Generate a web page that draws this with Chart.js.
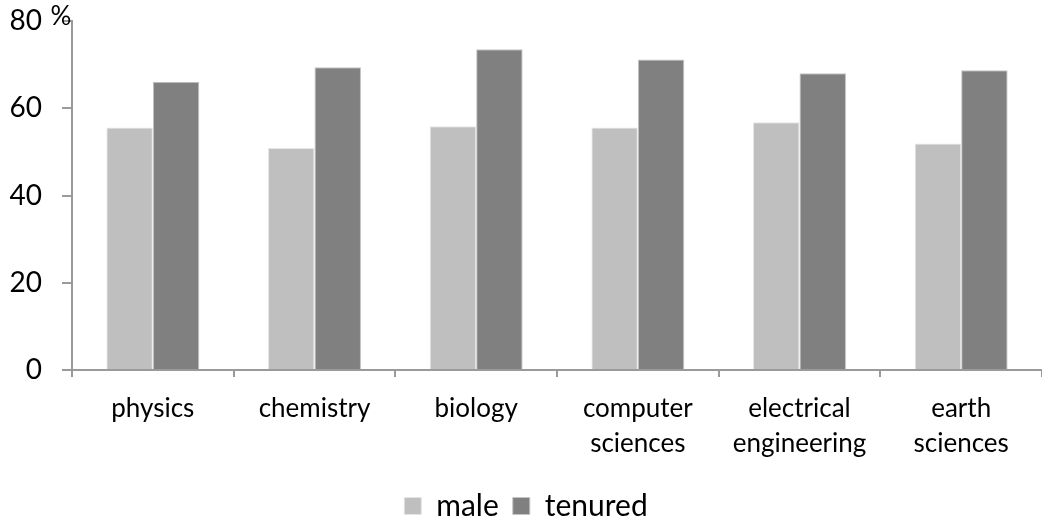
<!DOCTYPE html>
<html>
<head>
<meta charset="utf-8">
<script src="https://cdn.jsdelivr.net/npm/chart.js@4"></script>
<style>
  html, body { margin: 0; padding: 0; background: #fff; }
  #wrap { width: 1042px; height: 521px; }
</style>
</head>
<body>
<div id="wrap"><canvas id="myChart" width="1042" height="521"></canvas></div>
<script>
const categories = [
  "physics",
  "chemistry",
  "biology",
  ["computer", "sciences"],
  ["electrical", "engineering"],
  ["earth", "sciences"],
];
const male = [55.6, 50.9, 55.9, 55.6, 56.8, 51.9];
const tenured = [66.1, 69.4, 73.5, 71.2, 68.0, 68.7];
const yTicks = [0, 20, 40, 60, 80];

const axisColor = "#9a9a9a";

// draws the small "%" next to the top tick label
const percentSign = {
  id: "percentSign",
  afterDraw(chart) {
    const y = chart.scales.y;
    const c = chart.ctx;
    c.save();
    c.font = "26px Lato";
    c.fillStyle = "#000";
    c.textAlign = "center";
    c.textBaseline = "middle";
    c.fillText("%", y.right - 11, y.getPixelForValue(80) - 4);
    c.restore();
  },
};

const ctx = document.getElementById("myChart");

new Chart(ctx, {
  type: "bar",
  data: {
    labels: categories,
    datasets: [
      {
        label: "male",
        data: male,
        backgroundColor: "#bfbfbf",
        borderColor: "#e6e6e6",
        borderWidth: 1,
        categoryPercentage: 0.575,
        barPercentage: 1,
      },
      {
        label: "tenured",
        data: tenured,
        backgroundColor: "#808080",
        borderColor: "#c4c4c4",
        borderWidth: 1,
        categoryPercentage: 0.575,
        barPercentage: 1,
      },
    ],
  },
  options: {
    responsive: false,
    animation: false,
    layout: {
      padding: { left: 10, right: 0, top: 21, bottom: -10 },
    },
    plugins: {
      tooltip: { enabled: false },
      legend: {
        display: true,
        position: "bottom",
        labels: {
          boxWidth: 17,
          boxHeight: 17,
          padding: 14,
          color: "#000",
          font: { family: "Lato", size: 30 },
        },
      },
    },
    scales: {
      x: {
        afterFit(scale) {
          scale.height = 107;
        },
        grid: {
          offset: true,
          drawOnChartArea: false,
          tickLength: 7,
          color: axisColor,
          lineWidth: 2,
        },
        border: { color: axisColor, width: 2 },
        ticks: {
          color: "#000",
          padding: 14,
          maxRotation: 0,
          font: { family: "Lato", size: 26, lineHeight: 1.35 },
        },
      },
      y: {
        min: 0,
        max: 80,
        afterBuildTicks(scale) {
          scale.ticks = yTicks.map((v) => ({ value: v }));
        },
        afterFit(scale) {
          scale.width = 62;
          scale.paddingTop = 0;
          scale.paddingBottom = 0;
        },
        grid: {
          drawOnChartArea: false,
          tickLength: 10,
          color: axisColor,
          lineWidth: 2,
        },
        border: { color: axisColor, width: 2 },
        ticks: {
          color: "#000",
          padding: 20,
          font: { family: "Lato", size: 28 },
        },
      },
    },
  },
  plugins: [percentSign],
});
</script>
</body>
</html>
